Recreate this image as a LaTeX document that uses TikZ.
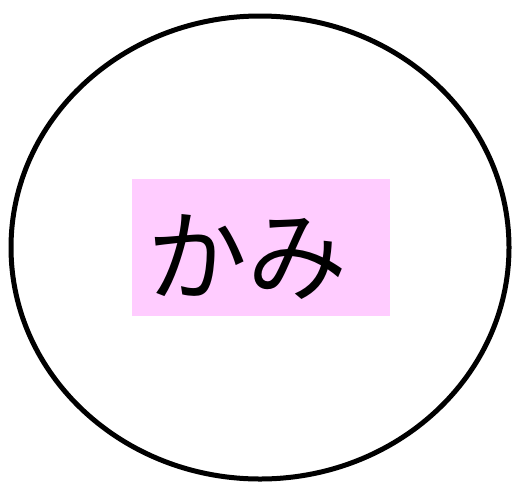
\documentclass[tikz,border=0pt]{standalone}
\usepackage{fontspec}
\newfontfamily\cjk{Noto Sans CJK JP}
\definecolor{boxpink}{HTML}{FFCCFF}
\begin{document}
\begin{tikzpicture}[x=1pt,y=-1pt,
  outline/.style={draw=black,line width=5pt},
  pinkbox/.style={fill=boxpink,draw=none,minimum width=258pt,minimum height=137pt,inner sep=0pt},
  word/.style={font=\cjk\fontsize{100}{110}\selectfont,inner sep=0pt}]
\useasboundingbox (0,0) rectangle (513,482);
\fill[white] (0,0) rectangle (513,482);
\draw[outline] (260,247.5) ellipse [x radius=249, y radius=231.5];
\node[pinkbox] (box) at (261,247.5) {};
\node[word] (txt) at (247,257) {かみ};
\end{tikzpicture}
\end{document}
